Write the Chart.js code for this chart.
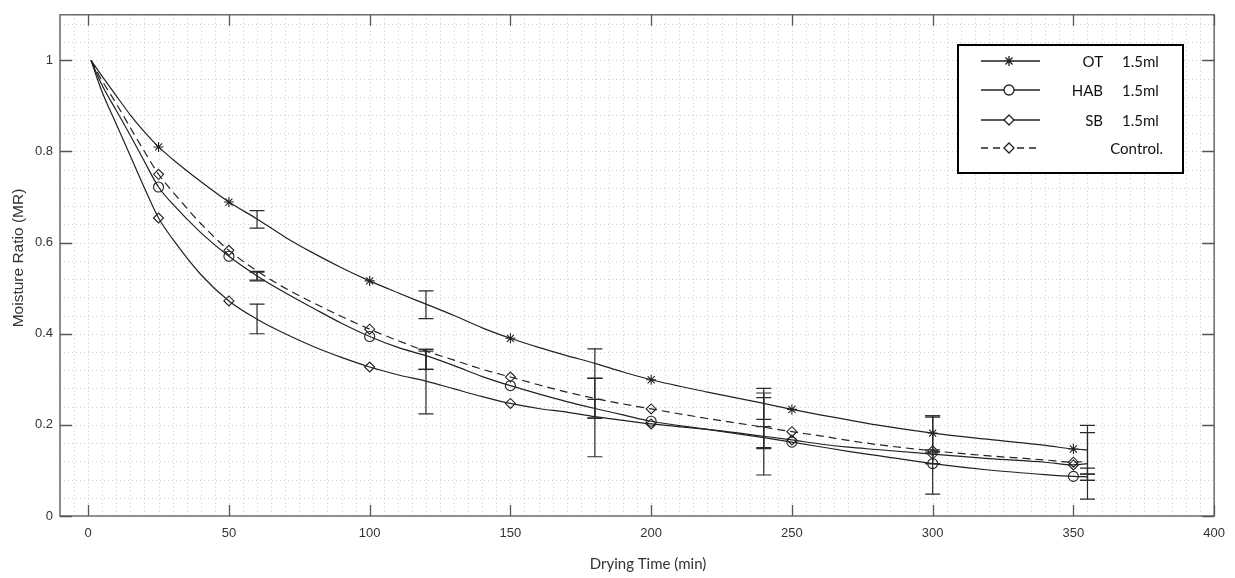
<!DOCTYPE html>
<html>
<head>
<meta charset="utf-8">
<script src="https://cdn.jsdelivr.net/npm/chart.js@4.4.1/dist/chart.umd.min.js"></script>
<style>
  html, body { margin: 0; padding: 0; background: #fff; }
</style>
</head>
<body>
<canvas id="chart" width="1235" height="578"></canvas>
<script>
// drying curves
const lineTimes = [1, 5, 10, 15, 20, 25, 30, 40, 50, 60, 70, 80, 90, 100, 110, 120, 130, 140, 150, 160, 170, 180, 190, 200, 220, 240, 250, 260, 270, 280, 300, 320, 340, 350, 355];
const otLine   = [1.0, 0.965, 0.922, 0.88, 0.843, 0.81, 0.783, 0.734, 0.689, 0.652, 0.612, 0.577, 0.545, 0.516, 0.49, 0.465, 0.44, 0.413, 0.39, 0.37, 0.352, 0.335, 0.316, 0.299, 0.272, 0.247, 0.234, 0.222, 0.211, 0.2, 0.182, 0.168, 0.155, 0.147, 0.145];
const habLine  = [1.0, 0.945, 0.89, 0.835, 0.778, 0.722, 0.685, 0.622, 0.57, 0.527, 0.49, 0.456, 0.423, 0.394, 0.37, 0.352, 0.33, 0.306, 0.286, 0.268, 0.251, 0.236, 0.222, 0.208, 0.19, 0.172, 0.162, 0.152, 0.142, 0.133, 0.115, 0.101, 0.091, 0.087, 0.086];
const sbLine   = [1.0, 0.93, 0.86, 0.79, 0.72, 0.654, 0.608, 0.53, 0.472, 0.432, 0.4, 0.372, 0.348, 0.327, 0.31, 0.296, 0.279, 0.262, 0.247, 0.236, 0.228, 0.218, 0.21, 0.202, 0.19, 0.175, 0.167, 0.158, 0.151, 0.146, 0.136, 0.126, 0.118, 0.112, 0.115];
const ctrlLine = [1.0, 0.955, 0.905, 0.852, 0.8, 0.75, 0.712, 0.642, 0.583, 0.538, 0.5, 0.468, 0.438, 0.41, 0.385, 0.362, 0.342, 0.322, 0.305, 0.288, 0.272, 0.258, 0.246, 0.235, 0.214, 0.195, 0.185, 0.176, 0.166, 0.157, 0.143, 0.132, 0.123, 0.118, 0.12];

// marker points
const markTimes = [25, 50, 100, 150, 200, 250, 300, 350];
const otMarks   = [0.81, 0.689, 0.516, 0.39, 0.299, 0.234, 0.182, 0.147];
const habMarks  = [0.722, 0.57, 0.394, 0.286, 0.208, 0.162, 0.115, 0.087];
const sbMarks   = [0.654, 0.472, 0.327, 0.247, 0.202, 0.167, 0.136, 0.112];
const ctrlMarks = [0.75, 0.583, 0.41, 0.305, 0.235, 0.185, 0.143, 0.118];

// error bars (low / high)
const errTimes   = [60, 120, 180, 240, 300, 355];
const otErrLow   = [0.632, 0.433, 0.302, 0.212, 0.145, 0.092];
const otErrHigh  = [0.67, 0.494, 0.367, 0.28, 0.22, 0.199];
const habErrLow  = [0.516, 0.322, 0.215, 0.148, 0.115, 0.078];
const habErrHigh = [0.535, 0.362, 0.256, 0.196, 0.14, 0.092];
const sbErrLow   = [0.40, 0.224, 0.13, 0.09, 0.048, 0.078];
const sbErrHigh  = [0.465, 0.366, 0.302, 0.26, 0.22, 0.105];
const ctrlErrLow  = [0.518, 0.322, 0.215, 0.15, 0.115, 0.037];
const ctrlErrHigh = [0.537, 0.366, 0.302, 0.27, 0.217, 0.183];

const xTicks = [0, 50, 100, 150, 200, 250, 300, 350, 400];
const yTicks = [0, 0.2, 0.4, 0.6, 0.8, 1];

const legendNames = ['OT', 'HAB', 'SB', 'Control.'];
const legendDose  = ['1.5ml', '1.5ml', '1.5ml', ''];

const INK = '#222';
const pts = (xs, ys) => xs.map((t, i) => ({ x: t, y: ys[i] }));

function lineSet(data, dash) {
  return {
    data: pts(lineTimes, data),
    borderColor: INK,
    borderWidth: 1.2,
    borderDash: dash || [],
    pointRadius: 0,
    cubicInterpolationMode: 'monotone',
    fill: false
  };
}
function markSet(data, style) {
  return {
    data: pts(markTimes, data),
    showLine: false,
    pointStyle: style,
    pointRadius: 5,
    pointBorderWidth: 1.1,
    pointBorderColor: INK,
    pointBackgroundColor: 'rgba(0,0,0,0)'
  };
}

const series = [
  { low: otErrLow, high: otErrHigh, style: 'star', dash: [] },
  { low: habErrLow, high: habErrHigh, style: 'circle', dash: [] },
  { low: sbErrLow, high: sbErrHigh, style: 'rectRot', dash: [] },
  { low: ctrlErrLow, high: ctrlErrHigh, style: 'rectRot', dash: [8, 5] }
];

const decor = {
  id: 'decor',
  beforeDatasetsDraw(chart) {
    const { ctx, chartArea: a, scales: { x, y } } = chart;
    ctx.save();
    ctx.strokeStyle = '#cdcdcd';
    ctx.lineWidth = 1;
    ctx.setLineDash([1, 3]);
    for (let v = -10; v <= 400; v += 5) {
      const px = Math.round(x.getPixelForValue(v)) + 0.5;
      ctx.beginPath(); ctx.moveTo(px, a.top); ctx.lineTo(px, a.bottom); ctx.stroke();
    }
    for (let i = 1; i <= 27; i++) {
      const py = Math.round(y.getPixelForValue(i * 0.04)) + 0.5;
      ctx.beginPath(); ctx.moveTo(a.left, py); ctx.lineTo(a.right, py); ctx.stroke();
    }
    ctx.restore();
  },
  afterDatasetsDraw(chart) {
    const { ctx, chartArea: a, scales: { x, y } } = chart;
    ctx.save();
    // error bars
    ctx.strokeStyle = '#2a2a2a';
    ctx.lineWidth = 1.2;
    series.forEach(s => {
      errTimes.forEach((t, i) => {
        const px = x.getPixelForValue(t);
        const y1 = y.getPixelForValue(s.low[i]);
        const y2 = y.getPixelForValue(s.high[i]);
        ctx.beginPath();
        ctx.moveTo(px, y1); ctx.lineTo(px, y2);
        ctx.moveTo(px - 7.5, y1); ctx.lineTo(px + 7.5, y1);
        ctx.moveTo(px - 7.5, y2); ctx.lineTo(px + 7.5, y2);
        ctx.stroke();
      });
    });
    // box and inward ticks
    ctx.strokeStyle = '#555';
    ctx.lineWidth = 1.3;
    ctx.strokeRect(a.left, a.top, a.right - a.left, a.bottom - a.top);
    ctx.beginPath();
    xTicks.forEach(v => {
      const px = Math.round(x.getPixelForValue(v)) + 0.5;
      ctx.moveTo(px, a.bottom); ctx.lineTo(px, a.bottom - 11);
      ctx.moveTo(px, a.top); ctx.lineTo(px, a.top + 11);
    });
    yTicks.forEach(v => {
      const py = Math.round(y.getPixelForValue(v)) + 0.5;
      ctx.moveTo(a.left, py); ctx.lineTo(a.left + 12, py);
      ctx.moveTo(a.right, py); ctx.lineTo(a.right - 12, py);
    });
    ctx.stroke();
    ctx.restore();
  },
  afterDraw(chart) {
    const { ctx } = chart;
    ctx.save();
    // axis titles
    ctx.fillStyle = '#333';
    ctx.font = '15.5px "Liberation Sans"';
    ctx.textAlign = 'center';
    ctx.textBaseline = 'middle';
    ctx.translate(19, 258);
    ctx.rotate(-Math.PI / 2);
    ctx.fillText('Moisture Ratio (MR)', 0, 0);
    ctx.setTransform(1, 0, 0, 1, 0, 0);
    ctx.font = '15px Lato';
    ctx.fillText('Drying Time (min)', 648, 564);

    // legend
    const bx = 958, by = 45, bw = 225, bh = 128;
    ctx.fillStyle = '#fff';
    ctx.fillRect(bx, by, bw, bh);
    ctx.strokeStyle = '#000';
    ctx.lineWidth = 2;
    ctx.strokeRect(bx, by, bw, bh);
    const rows = [61, 90, 120, 148];
    ctx.font = '15px Lato';
    series.forEach((s, i) => {
      const ry = rows[i];
      ctx.strokeStyle = INK;
      ctx.lineWidth = 1.6;
      ctx.setLineDash(s.dash.length ? [7, 5] : []);
      ctx.beginPath(); ctx.moveTo(981, ry); ctx.lineTo(1040, ry); ctx.stroke();
      ctx.setLineDash([]);
      ctx.fillStyle = '#fff';
      ctx.beginPath(); ctx.arc(1009, ry, 4.5, 0, Math.PI * 2); ctx.fill();
      ctx.lineWidth = 1.3;
      Chart.helpers.drawPoint(ctx, { pointStyle: s.style, radius: 5, borderWidth: 1.3, rotation: 0 }, 1009, ry);
      ctx.fillStyle = '#111';
      if (legendDose[i]) {
        ctx.textAlign = 'right';
        ctx.fillText(legendNames[i], 1103, ry + 1);
        ctx.textAlign = 'left';
        ctx.fillText(legendDose[i], 1122, ry + 1);
      } else {
        ctx.textAlign = 'right';
        ctx.fillText(legendNames[i], 1163, ry + 1);
      }
    });
    ctx.restore();
  }
};

new Chart(document.getElementById('chart'), {
  type: 'line',
  data: {
    datasets: [
      lineSet(otLine), lineSet(habLine), lineSet(sbLine), lineSet(ctrlLine, [8, 5]),
      markSet(otMarks, 'star'), markSet(habMarks, 'circle'), markSet(sbMarks, 'rectRot'), markSet(ctrlMarks, 'rectRot')
    ]
  },
  options: {
    responsive: false,
    animation: false,
    devicePixelRatio: 1,
    layout: { padding: { top: 9, right: 20, left: 0, bottom: 0 } },
    plugins: { legend: { display: false }, tooltip: { enabled: false } },
    scales: {
      x: {
        type: 'linear',
        min: -10,
        max: 400,
        afterBuildTicks: s => { s.ticks = xTicks.map(v => ({ value: v })); },
        afterFit: s => { s.height = 62; },
        grid: { display: false, drawTicks: false },
        border: { display: false },
        ticks: { padding: 10, color: '#333', font: { family: 'Liberation Sans', size: 13 }, maxRotation: 0 }
      },
      y: {
        type: 'linear',
        min: 0,
        max: 1.1,
        afterBuildTicks: s => { s.ticks = yTicks.map(v => ({ value: v })); },
        afterFit: s => { s.width = 60; },
        grid: { display: false, drawTicks: false },
        border: { display: false },
        ticks: { padding: 7, color: '#333', font: { family: 'Liberation Sans', size: 13 }, callback: v => String(v) }
      }
    }
  },
  plugins: [decor]
});
</script>
</body>
</html>
